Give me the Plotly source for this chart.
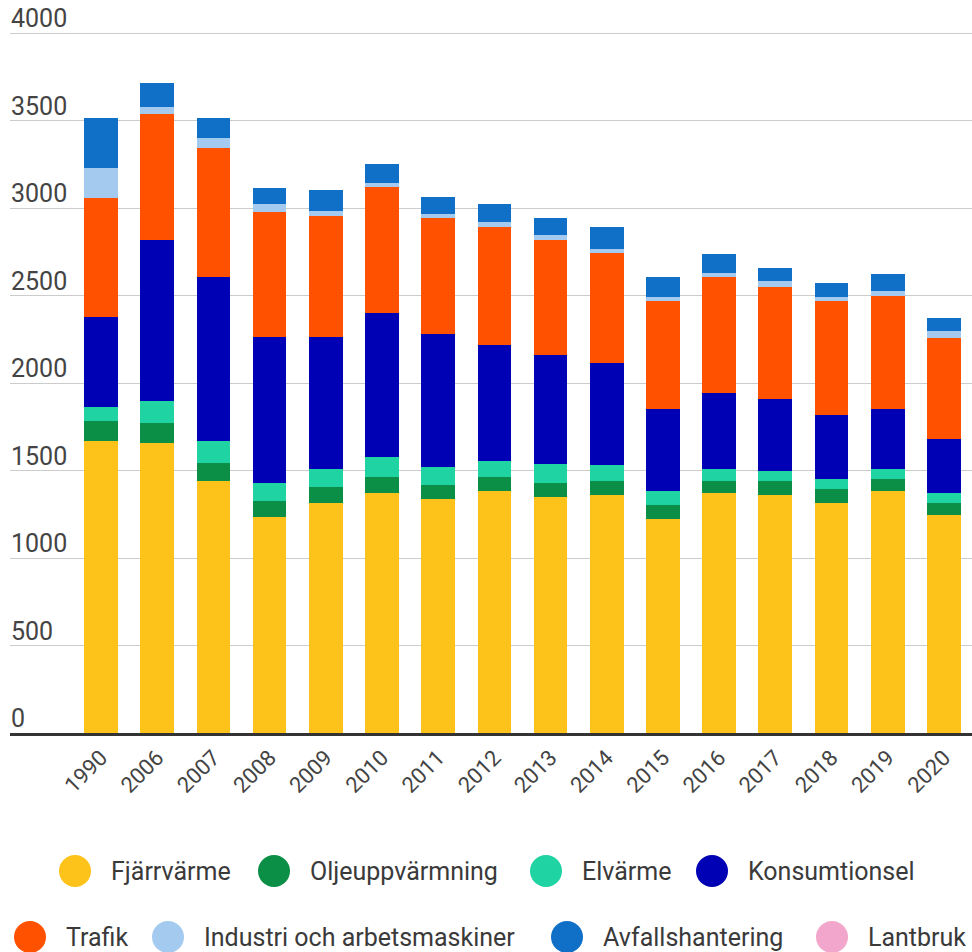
import plotly.graph_objects as go

years = ["1990", "2006", "2007", "2008", "2009", "2010", "2011", "2012",
         "2013", "2014", "2015", "2016", "2017", "2018", "2019", "2020"]

fjarrvarme = [1670, 1660, 1442, 1238, 1314, 1371, 1339, 1386, 1352, 1362, 1225, 1371, 1362, 1318, 1381, 1247]
oljeuppvarmning = [115, 111, 104, 89, 92, 92, 80, 77, 80, 80, 80, 72, 81, 76, 70, 67]
elvarme = [81, 129, 126, 102, 103, 117, 104, 93, 105, 91, 80, 67, 58, 59, 59, 57]
konsumtionsel = [514, 919, 937, 837, 757, 823, 757, 663, 625, 585, 468, 433, 408, 366, 343, 311]
trafik = [680, 720, 734, 711, 690, 720, 663, 676, 657, 628, 617, 666, 643, 651, 646, 575]
industri = [168, 41, 60, 46, 30, 23, 23, 25, 28, 21, 21, 20, 34, 25, 28, 42]
avfall = [286, 134, 111, 91, 119, 105, 100, 103, 96, 128, 118, 108, 71, 80, 96, 72]
lantbruk = [0] * 16

series_names = ["Fjärrvärme", "Oljeuppvärmning", "Elvärme", "Konsumtionsel",
                "Trafik", "Industri och arbetsmaskiner", "Avfallshantering", "Lantbruk"]
series_values = [fjarrvarme, oljeuppvarmning, elvarme, konsumtionsel,
                 trafik, industri, avfall, lantbruk]
colors = ["#fdc31a", "#0b8f46", "#1fd3a3", "#0000b4",
          "#ff5100", "#a4cbef", "#1070c8", "#f3a6cb"]

y_ticks = [0, 500, 1000, 1500, 2000, 2500, 3000, 3500, 4000]
y_max = 4180

W, H = 972, 952
ML, MR, MT, MB = 10, 0, 2, 219
PW = W - ML - MR
PH = H - MT - MB

fig = go.Figure()
for name, vals, col in zip(series_names, series_values, colors):
    fig.add_trace(go.Bar(x=years, y=vals, name=name, marker_color=col,
                         marker_line_width=0, showlegend=False))

fig.update_layout(
    width=W, height=H,
    margin=dict(l=ML, r=MR, t=MT, b=MB),
    barmode="stack", bargap=0.4,
    plot_bgcolor="white", paper_bgcolor="white",
    font=dict(family="Roboto", size=24, color="#444444"),
    showlegend=False,
)
fig.update_xaxes(
    type="category", range=[-1.62, 15.5],
    tickangle=-45, tickfont=dict(size=22, color="#444444"),
    showline=True, linecolor="#333333", linewidth=3,
    showgrid=False, ticks="",
)
fig.update_yaxes(
    range=[0, y_max], tickvals=y_ticks, showticklabels=False,
    showgrid=True, gridcolor="#cccccc", gridwidth=1,
    zeroline=False, showline=False, ticks="",
)

# Y tick labels sit above their gridlines at the left edge (placed on the y scale)
for v in y_ticks:
    fig.add_annotation(xref="paper", yref="y", x=0, y=v, xshift=-1, yshift=-2,
                       text=str(v), showarrow=False, xanchor="left",
                       yanchor="bottom", font=dict(size=25, color="#444444"))

# Legend drawn with circles + text (two centered rows like the original)
legend_rows = [
    (871, [(75, 0), (274, 1), (546, 2), (712, 3)]),
    (937, [(30, 4), (168, 5), (567, 6), (832, 7)]),
]
for py, items in legend_rows:
    yp = (MT + PH - py) / PH
    for px, idx in items:
        xp = (px - ML) / PW
        fig.add_shape(type="circle", xref="paper", yref="paper",
                      xsizemode="pixel", ysizemode="pixel",
                      xanchor=xp, yanchor=yp, x0=-16, x1=16, y0=-16, y1=16,
                      fillcolor=colors[idx], line_width=0)
        fig.add_annotation(xref="paper", yref="paper", x=xp, y=yp,
                           xshift=34, text=series_names[idx], showarrow=False,
                           xanchor="left", yanchor="middle",
                           font=dict(size=25, color="#3a3a3a"))

fig.write_html("out.html")
